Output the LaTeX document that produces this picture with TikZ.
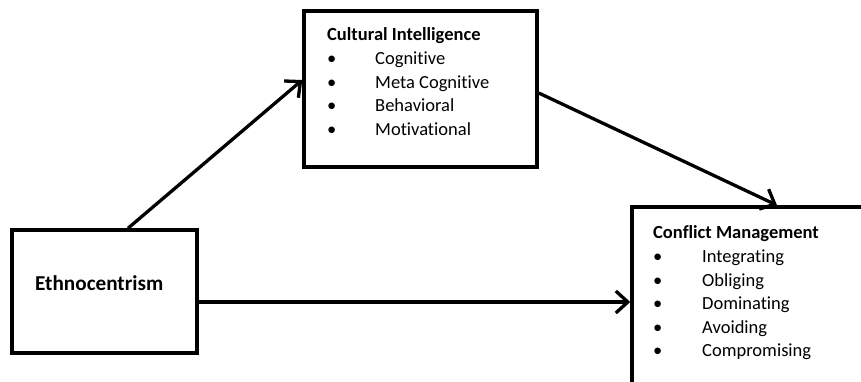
\documentclass[tikz,border=0pt]{standalone}
\usepackage{fontspec}
\setmainfont{Carlito}[Ligatures=NoCommon]
\usetikzlibrary{arrows.meta,calc}
\begin{document}
\begin{tikzpicture}[x=1pt,y=-1pt,
  boxnode/.style={draw=black,line width=3.5pt,fill=white,inner sep=0pt},
  arr/.style={draw=black,line width=3.3pt,-{Straight Barb[length=12pt,width=22pt,line width=3.3pt]}},
  ttl/.style={anchor=base west,inner sep=0pt,font=\fontsize{18.5}{22}\selectfont\bfseries},
  itm/.style={anchor=base west,inner sep=0pt,font=\fontsize{18.5}{22}\selectfont},
  big/.style={anchor=base west,inner sep=0pt,font=\fontsize{21.2}{25}\selectfont\bfseries}]
\clip (0,0) rectangle (861,381);
\fill[white] (0,0) rectangle (861,381);
% boxes
\node[boxnode,minimum width=185pt,minimum height=123pt] (E) at (104.5,291.5) {};
\node[boxnode,minimum width=233pt,minimum height=156pt] (CI) at (420.5,89) {};
\node[boxnode,minimum width=270pt,minimum height=200pt] (CM) at (767,307) {};
% texts
\node[big] (et) at (35,290) {Ethnocentrism};
\node[ttl] (cit) at (327,40.5) {Cultural Intelligence};
\node[itm] (ci1) at (327,64.5) {\makebox[48pt][l]{\textbullet}Cognitive};
\node[itm] (ci2) at (327,88) {\makebox[48pt][l]{\textbullet}Meta Cognitive};
\node[itm] (ci3) at (327,111.5) {\makebox[48pt][l]{\textbullet}Behavioral};
\node[itm] (ci4) at (327,135) {\makebox[48pt][l]{\textbullet}Motivational};
\node[ttl] (cmt) at (653,238.5) {Conflict Management};
\node[itm] (cm1) at (653,262.5) {\makebox[49pt][l]{\textbullet}Integrating};
\node[itm] (cm2) at (653,286) {\makebox[49pt][l]{\textbullet}Obliging};
\node[itm] (cm3) at (653,309.5) {\makebox[49pt][l]{\textbullet}Dominating};
\node[itm] (cm4) at (653,333) {\makebox[49pt][l]{\textbullet}Avoiding};
\node[itm] (cm5) at (653,356.5) {\makebox[49pt][l]{\textbullet}Compromising};
% connectors
\draw[arr] ([xshift=23.5pt]E.north) -- ([yshift=9pt]CI.west);
\draw[arr] ([yshift=-4pt]CI.east) -- ([xshift=10pt]CM.north);
\draw[arr] ([yshift=-10.5pt]E.east) -- ([yshift=-10.5pt]E.east -| CM.west);
\end{tikzpicture}
\end{document}
